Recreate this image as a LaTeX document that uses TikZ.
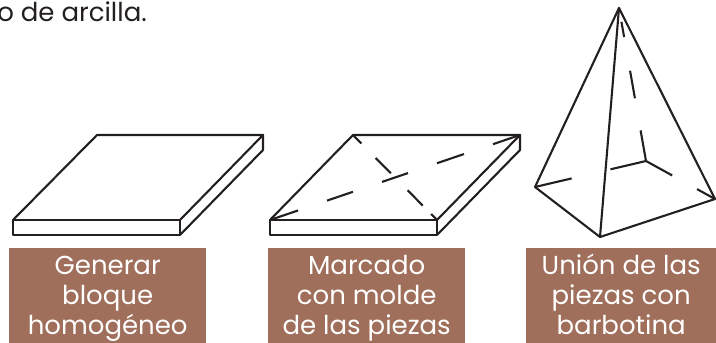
\documentclass[tikz,border=0pt]{standalone}
\usepackage{fontspec}
\setmainfont{Poppins}
\usetikzlibrary{calc}
\definecolor{clay}{RGB}{160,111,91}
\definecolor{ink}{RGB}{35,31,32}
\begin{document}
\begin{tikzpicture}[x=1pt,y=-1pt,
  edge/.style={draw=ink, line width=2.1pt, line join=round, line cap=round},
  hidden/.style={draw=ink, line width=2.1pt, line cap=butt},
  stepbox/.style={fill=clay, text=white, minimum width=197pt, minimum height=95pt,
    anchor=north west, inner sep=0pt, align=center,
    font=\fontsize{26}{30}\selectfont},
  caption/.style={text=ink, anchor=base east, inner sep=0pt,
    font=\fontsize{26}{30}\selectfont}]
\useasboundingbox (0,0) rectangle (716,343);

% closing words of the sentence above the drawings
\node[caption] (title) at (147,21) {o de arcilla.};

% --- slab 1: plain block ---
\coordinate (a-fl) at (13,220);  \coordinate (a-fr) at (180,220);
\coordinate (a-br) at (263,135); \coordinate (a-bl) at (97,135);
\coordinate (a-flb) at (13,235); \coordinate (a-frb) at (180,235);
\coordinate (a-brb) at (263,150);
\draw[edge] (a-fl) -- (a-fr) -- (a-frb) -- (a-flb) -- cycle;
\draw[edge] (a-fl) -- (a-bl) -- (a-br) -- (a-fr);
\draw[edge] (a-br) -- (a-brb) -- (a-frb);

% --- slab 2: block with marked diagonals ---
\coordinate (b-fl) at (270,220);  \coordinate (b-fr) at (437,220);
\coordinate (b-br) at (520,135);  \coordinate (b-bl) at (353,135);
\coordinate (b-flb) at (270,235); \coordinate (b-frb) at (437,235);
\coordinate (b-brb) at (520,150);
\draw[edge] (b-fl) -- (b-fr) -- (b-frb) -- (b-flb) -- cycle;
\draw[edge] (b-fl) -- (b-bl) -- (b-br) -- (b-fr);
\draw[edge] (b-br) -- (b-brb) -- (b-frb);
\foreach \s/\e in {0/0.112, 0.228/0.332, 0.448/0.552, 0.668/0.776, 0.892/1}
  \draw[hidden] ($(b-fl)!\s!(b-br)$) -- ($(b-fl)!\e!(b-br)$);
\foreach \s/\e in {0/0.1, 0.27/0.45, 0.65/0.83, 0.93/1}
  \draw[hidden] ($(b-bl)!\s!(b-fr)$) -- ($(b-bl)!\e!(b-fr)$);

% --- pyramid ---
\coordinate (p-top) at (619,8);
\coordinate (p-l) at (535,187);
\coordinate (p-f) at (600,237);
\coordinate (p-r) at (715,199);
\coordinate (p-b) at (646,161);
\draw[edge] (p-top) -- (p-l) -- (p-f) -- (p-r) -- cycle;
\draw[edge] (p-top) -- (p-f);
\foreach \s/\e in {0.09/0.19, 0.41/0.59, 0.80/1}
  \draw[hidden] ($(p-top)!\s!(p-b)$) -- ($(p-top)!\e!(p-b)$);
\foreach \s/\e in {0/0.32, 0.67/1}
  \draw[hidden] ($(p-b)!\s!(p-l)$) -- ($(p-b)!\e!(p-l)$);
\foreach \s/\e in {0/0.38, 0.74/1}
  \draw[hidden] ($(p-b)!\s!(p-r)$) -- ($(p-b)!\e!(p-r)$);

% --- step captions ---
\node[stepbox] (step1) at (9,248)
  {\rule{0pt}{24pt}Generar\\bloque\\homogéneo\rule[-7pt]{0pt}{0pt}};
\node[stepbox] (step2) at (268,248)
  {\rule{0pt}{24pt}Marcado\\con molde\\de las piezas\rule[-7pt]{0pt}{0pt}};
\node[stepbox, minimum width=190pt] (step3) at (526,248)
  {\rule{0pt}{24pt}Unión de las\\piezas con\\barbotina\rule[-7pt]{0pt}{0pt}};
\end{tikzpicture}
\end{document}
